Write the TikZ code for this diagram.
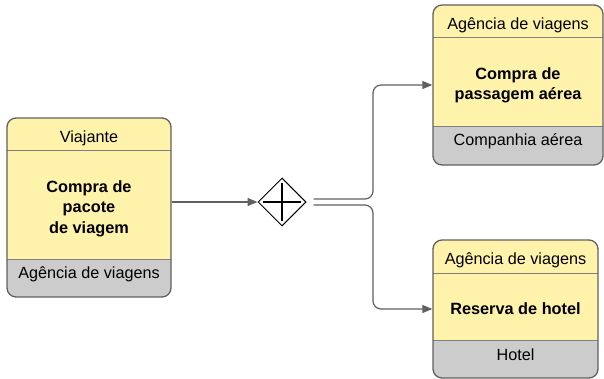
\documentclass[tikz,border=0pt]{standalone}
\usepackage{fontspec}
\setmainfont{Liberation Sans}
\usetikzlibrary{arrows.meta,shapes.geometric,positioning}
\definecolor{taskyellow}{RGB}{255,242,170}
\definecolor{bandgray}{RGB}{204,204,204}
\definecolor{edgegray}{RGB}{96,96,96}

\begin{document}
\begin{tikzpicture}[
  x=1pt, y=-1pt,
  task/.style={draw=edgegray,fill=taskyellow,line width=1.3pt,rounded corners=9pt,inner sep=0pt,
    path picture={
      \fill[bandgray,sharp corners] ([yshift=38pt]path picture bounding box.south west)
        rectangle (path picture bounding box.south east);
      \draw[edgegray!80,line width=1pt,sharp corners]
        ([yshift=38pt]path picture bounding box.south west) -- ([yshift=38pt]path picture bounding box.south east)
        ([yshift=-33pt]path picture bounding box.north west) -- ([yshift=-33pt]path picture bounding box.north east);
    }},
  band/.style={font=\fontsize{16.2}{19}\selectfont},
  body/.style={font=\fontsize{16.3}{20.5}\selectfont\bfseries,align=center},
  gateway/.style={diamond,draw=black,fill=white,line width=1pt,minimum width=48pt,minimum height=48pt,inner sep=0pt,
    path picture={
      \draw[line width=2.3pt]
        ([xshift=-19pt]path picture bounding box.center) -- ([xshift=19pt]path picture bounding box.center)
        ([yshift=-19pt]path picture bounding box.center) -- ([yshift=19pt]path picture bounding box.center);
    }},
  flow/.style={-{Triangle[length=10pt,width=8pt]},draw=edgegray,line width=1.2pt,rounded corners=8pt}
]
  \useasboundingbox (0,0) rectangle (604,379);

  % purchase of the package
  \node[task,minimum width=164pt,minimum height=179pt] (pkg) at (89,207.5) {};
  \node[band] (pkg-head) at ([yshift=-20.5pt]pkg.north) {Viajante};
  \node[body] (pkg-body) at ([yshift=-1pt]pkg.center) {Compra de\\pacote\\de viagem};
  \node[band] (pkg-foot) at ([yshift=23.5pt]pkg.south) {Agência de viagens};

  % flight
  \node[task,minimum width=170pt,minimum height=160pt] (air) at (518,85) {};
  \node[band] (air-head) at ([yshift=-20.5pt]air.north) {Agência de viagens};
  \node[body] (air-body) at ([yshift=-0.5pt]air.center) {Compra de\\passagem aérea};
  \node[band] (air-foot) at ([yshift=24.5pt]air.south) {Companhia aérea};

  % hotel
  \node[task,minimum width=165pt,minimum height=138pt] (hotel) at (515.5,309) {};
  \node[band] (hotel-head) at ([yshift=-20.5pt]hotel.north) {Agência de viagens};
  \node[body] (hotel-body) at ([yshift=0pt]hotel.center) {Reserva de hotel};
  \node[band] (hotel-foot) at ([yshift=23.5pt]hotel.south) {Hotel};

  \node[gateway] (gw) at (282,202) {};
  \coordinate (fork) at (373,202);

  \draw[flow] (pkg.east |- gw.west) -- (gw.west);
  \draw[flow] ([xshift=7pt,yshift=3pt]gw.east) -- ([yshift=3pt]fork) |- (air.west);
  \draw[flow] ([xshift=7pt,yshift=-3pt]gw.east) -- ([yshift=-3pt]fork) |- (hotel.west);
\end{tikzpicture}
\end{document}
